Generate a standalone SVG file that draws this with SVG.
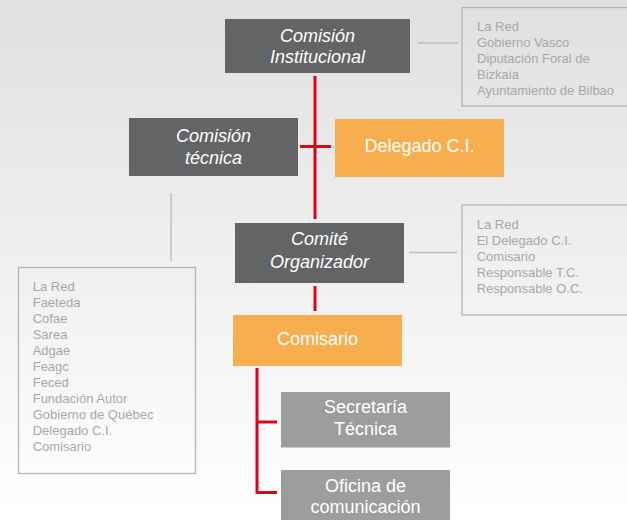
<svg xmlns="http://www.w3.org/2000/svg" width="627" height="520" viewBox="0 0 627 520">
<defs>
<linearGradient id="bg" x1="0" y1="0" x2="0" y2="1">
<stop offset="0" stop-color="#e0e0e0"/>
<stop offset="1" stop-color="#ffffff"/>
</linearGradient>
<style>
.dark{fill:#636466}
.orange{fill:#f6ae4e}
.light{fill:#9d9d9e}
.t{font-family:"Liberation Sans",Arial,sans-serif;font-size:18px;fill:#ffffff;text-anchor:middle}
.i{font-style:italic}
.info{fill:none;stroke:#b5b5b5;stroke-width:1.3}
.it{font-family:"Liberation Sans",Arial,sans-serif;font-size:13px;fill:#a8a8a8}
.red{stroke:#e2001a;stroke-width:3;fill:none}
.gl{stroke:#bcbcbc;stroke-width:1.3;fill:none}
</style>
</defs>
<rect width="627" height="520" fill="url(#bg)"/>
<g id="connectors">
<line class="red" x1="315" y1="76" x2="315" y2="219"/>
<line class="red" x1="300" y1="146.5" x2="331" y2="146.5"/>
<line class="red" x1="315" y1="286" x2="315" y2="311"/>
<polyline class="red" points="257,368 257,492.5 277,492.5"/>
<line class="red" x1="257" y1="422" x2="277" y2="422"/>
<line class="gl" x1="418" y1="43" x2="458" y2="43"/>
<line class="gl" x1="409" y1="252.5" x2="457" y2="252.5"/>
<line class="gl" x1="171" y1="193" x2="171" y2="261"/>
</g>
<g id="comision-institucional">
<rect class="dark" x="225" y="19" width="185" height="54"/>
<text class="t i" x="317.5" y="41.7">Comisión</text>
<text class="t i" x="317.5" y="63.3">Institucional</text>
</g>
<g id="info-ci">
<rect class="info" x="462" y="7.5" width="180" height="98.5"/>
<text class="it" x="477" y="31">La Red</text>
<text class="it" x="477" y="47">Gobierno Vasco</text>
<text class="it" x="477" y="63">Diputación Foral de</text>
<text class="it" x="477" y="79">Bizkaia</text>
<text class="it" x="477" y="95">Ayuntamiento de Bilbao</text>
</g>
<g id="comision-tecnica">
<rect class="dark" x="129" y="118" width="169" height="58"/>
<text class="t i" x="213.5" y="141.7">Comisión</text>
<text class="t i" x="213.5" y="164">técnica</text>
</g>
<g id="delegado">
<rect class="orange" x="335" y="119" width="169" height="58"/>
<text class="t" x="419.5" y="151.7">Delegado C.I.</text>
</g>
<g id="comite-organizador">
<rect class="dark" x="235" y="223" width="169" height="60"/>
<text class="t i" x="319.5" y="245">Comité</text>
<text class="t i" x="319.5" y="268.3">Organizador</text>
</g>
<g id="info-co">
<rect class="info" x="462" y="205" width="180" height="110"/>
<text class="it" x="476.7" y="229">La Red</text>
<text class="it" x="476.7" y="245">El Delegado C.I.</text>
<text class="it" x="476.7" y="261">Comisario</text>
<text class="it" x="476.7" y="277">Responsable T.C.</text>
<text class="it" x="476.7" y="293">Responsable O.C.</text>
</g>
<g id="info-ct">
<rect class="info" x="18.5" y="267.5" width="177" height="206"/>
<text class="it" x="32.7" y="290.7">La Red</text>
<text class="it" x="32.7" y="306.7">Faeteda</text>
<text class="it" x="32.7" y="322.7">Cofae</text>
<text class="it" x="32.7" y="338.7">Sarea</text>
<text class="it" x="32.7" y="354.7">Adgae</text>
<text class="it" x="32.7" y="370.7">Feagc</text>
<text class="it" x="32.7" y="386.7">Feced</text>
<text class="it" x="32.7" y="402.7">Fundación Autor</text>
<text class="it" x="32.7" y="418.7">Gobierno de Québec</text>
<text class="it" x="32.7" y="434.7">Delegado C.I.</text>
<text class="it" x="32.7" y="450.7">Comisario</text>
</g>
<g id="comisario">
<rect class="orange" x="233" y="315" width="169" height="51"/>
<text class="t" x="317.5" y="345">Comisario</text>
</g>
<g id="secretaria">
<rect class="light" x="281" y="392" width="169" height="55.5"/>
<text class="t" x="365.5" y="413.3">Secretaría</text>
<text class="t" x="365.5" y="435">Técnica</text>
</g>
<g id="oficina">
<rect class="light" x="281" y="470" width="169" height="55"/>
<text class="t" x="365.5" y="491.7">Oficina de</text>
<text class="t" x="365.5" y="513.3">comunicación</text>
</g>
</svg>
